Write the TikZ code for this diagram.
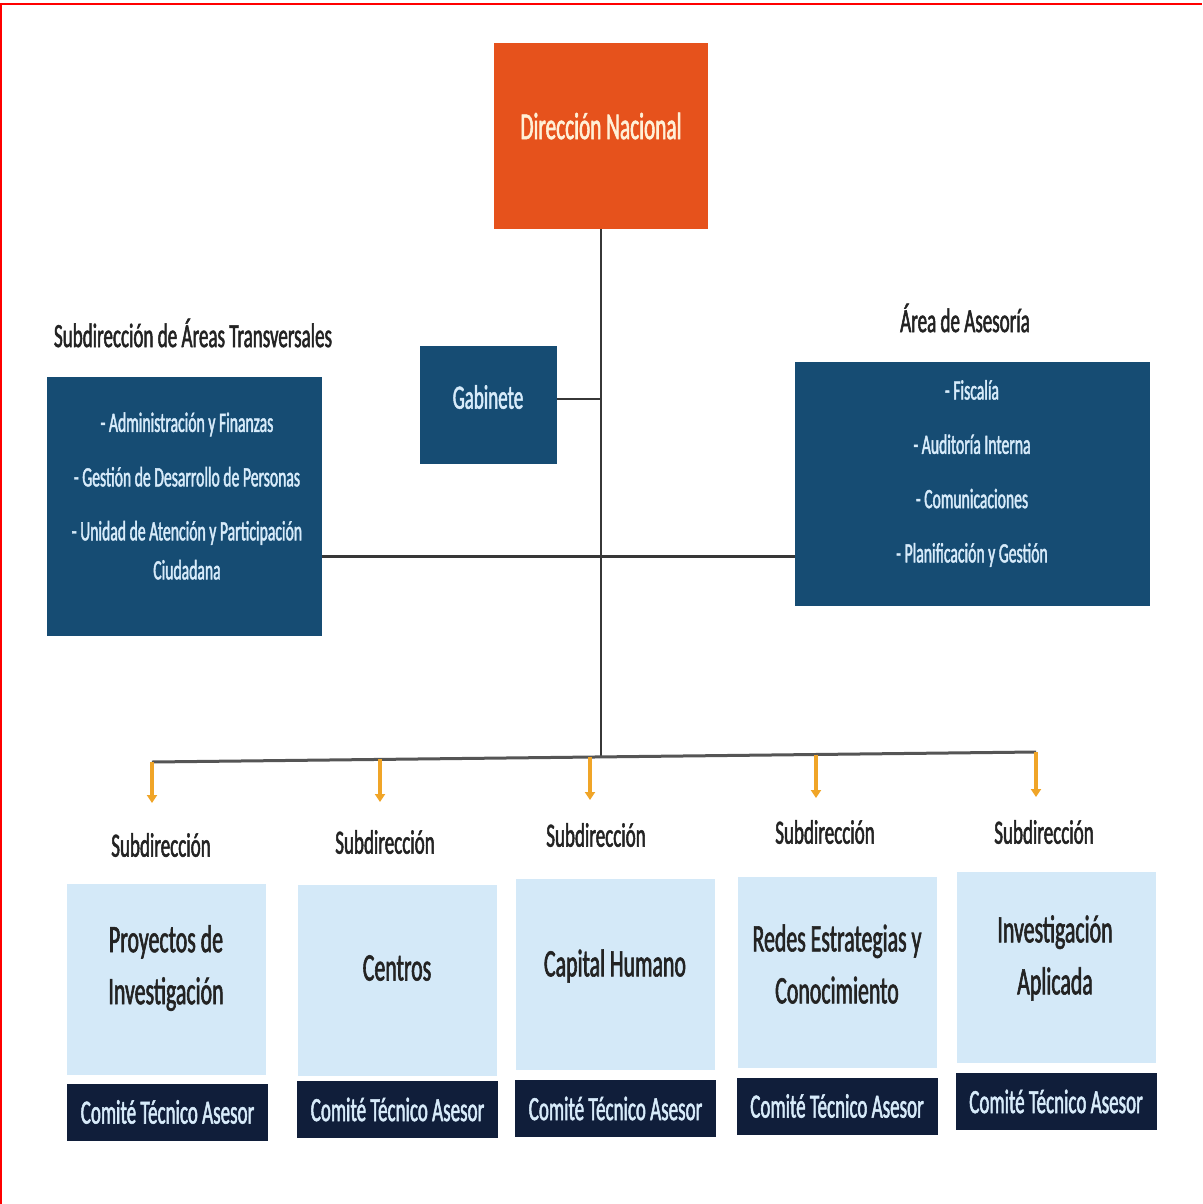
\documentclass[tikz,border=0pt]{standalone}
\usepackage{fontspec}
\setmainfont{Carlito}[FakeStretch=0.56,FakeBold=1.5]
\usetikzlibrary{arrows.meta}
\definecolor{dnorange}{RGB}{230,82,28}
\definecolor{dntext}{RGB}{255,240,215}
\definecolor{boxblue}{RGB}{22,76,115}
\definecolor{lighttext}{RGB}{215,235,250}
\definecolor{lightblue}{RGB}{212,233,248}
\definecolor{navy}{RGB}{16,30,58}
\definecolor{titlegray}{RGB}{35,35,35}
\definecolor{linegray}{RGB}{55,55,55}
\definecolor{arroworange}{RGB}{240,165,40}
\begin{document}
\begin{tikzpicture}[x=1pt,y=-1pt,
  dnbox/.style={fill=dnorange, minimum width=214pt, minimum height=186pt, inner sep=0pt, outer sep=0pt},
  dnlabel/.style={text=dntext, inner sep=0pt, font=\fontsize{38}{44}\selectfont},
  bluebox/.style={fill=boxblue, inner sep=0pt, outer sep=0pt},
  listtext/.style={text=lighttext, align=center, inner sep=0pt},
  titletext/.style={text=titlegray, inner sep=0pt, font=\fontsize{34}{40}\selectfont},
  subbox/.style={fill=lightblue, minimum width=199pt, minimum height=191pt, inner sep=0pt, outer sep=0pt},
  subtext/.style={text=titlegray, align=center, inner sep=0pt, font=\fontsize{39}{52}\selectfont},
  barbox/.style={fill=navy, minimum width=201pt, minimum height=57pt, inner sep=0pt, outer sep=0pt, text=lighttext, font=\fontsize{34}{40}\selectfont},
  link/.style={draw=linegray, line width=2pt},
  buslink/.style={draw=linegray!85, line width=3pt},
  orangearrow/.style={draw=arroworange, line width=3.5pt, -{Triangle[width=10pt,length=8pt]}}
]
\useasboundingbox (0,0) rectangle (1202,1204);
\fill[white] (0,0) rectangle (1202,1204);
\draw[red, line width=2pt] (1,1204) -- (1,4) -- (1202,4);

% top
\node[dnbox] (dn) at (601,136) {};
\node[dnlabel] (dnt) at (601,126) {Dirección Nacional};

% gabinete
\node[bluebox, minimum width=137pt, minimum height=118pt] (gab) at (488.5,405) {};
\node[listtext, font=\fontsize{34}{40}\selectfont] (gabt) at (488,397) {Gabinete};

% left block
\node[titletext] (ltitle) at (193,333) {Subdirección de Áreas Transversales};
\node[bluebox, minimum width=275pt, minimum height=259pt] (lbox) at (184.5,506.5) {};
\node[listtext, font=\fontsize{28}{39}\selectfont] (ltext) at (187,496) {- Administración y Finanzas\\[15.5pt]- Gestión de Desarrollo de Personas\\[15pt]- Unidad de Atención y Participación\\Ciudadana};

% right block
\node[titletext] (rtitle) at (965,318) {Área de Asesoría};
\node[bluebox, minimum width=355pt, minimum height=244pt] (rbox) at (972.5,484) {};
\node[listtext, font=\fontsize{28}{39}\selectfont] (rtext) at (972,473.5) {- Fiscalía\\[15.3pt]- Auditoría Interna\\[15.3pt]- Comunicaciones\\[15.3pt]- Planificación y Gestión};

% junction coordinates
\coordinate (gj) at (601,399);
\coordinate (mj) at (601,556);
\coordinate (j) at (601,757);
\coordinate (b1) at (152,762);
\coordinate (b2) at (380,759.4);
\coordinate (b3) at (590,757);
\coordinate (b4) at (816,754.5);
\coordinate (b5) at (1036,752);
\coordinate (a1) at (152,803);
\coordinate (a2) at (380,802);
\coordinate (a3) at (590,800);
\coordinate (a4) at (816,798);
\coordinate (a5) at (1036,797);

% connectors
\draw[link] (dn.south) -- (j);
\draw[link] (gab.east |- gj) -- (gj);
\draw[draw=linegray, line width=3pt] (lbox.east |- mj) -- (rbox.west |- mj);
\draw[buslink] (b1) -- (b5);
\draw[orangearrow] (b1) -- (a1);
\draw[orangearrow] (b2) -- (a2);
\draw[orangearrow] (b3) -- (a3);
\draw[orangearrow] (b4) -- (a4);
\draw[orangearrow] (b5) -- (a5);

% subdirección labels
\node[titletext] (sl1) at (161,845) {Subdirección};
\node[titletext] (sl2) at (385,842) {Subdirección};
\node[titletext] (sl3) at (596,835) {Subdirección};
\node[titletext] (sl4) at (825,832) {Subdirección};
\node[titletext] (sl5) at (1044,832) {Subdirección};

% light boxes
\node[subbox] (s1) at (166.5,979.5) {};
\node[subbox] (s2) at (397.5,980) {};
\node[subbox] (s3) at (615.5,974) {};
\node[subbox] (s4) at (837,972) {};
\node[subbox] (s5) at (1056,967.5) {};
\node[subtext] (s1t) at (166,968) {Proyectos de\\Investigación};
\node[subtext] (s2t) at (397,968) {Centros};
\node[subtext] (s3t) at (615,966) {Capital Humano};
\node[subtext] (s4t) at (837,964) {Redes Estrategias y\\Conocimiento};
\node[subtext] (s5t) at (1055,958) {Investigación\\Aplicada};

% bars
\node[barbox] (c1) at (167.5,1112) {Comité Técnico Asesor};
\node[barbox] (c2) at (397.5,1109.5) {Comité Técnico Asesor};
\node[barbox] (c3) at (615.5,1108.5) {Comité Técnico Asesor};
\node[barbox] (c4) at (837,1106) {Comité Técnico Asesor};
\node[barbox] (c5) at (1056,1101.5) {Comité Técnico Asesor};
\end{tikzpicture}
\end{document}
